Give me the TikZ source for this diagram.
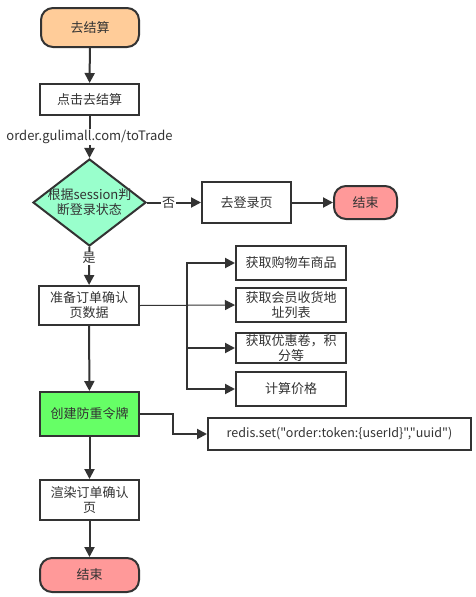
\documentclass[tikz,border=0pt]{standalone}
\usepackage{fontspec}
\setmainfont{Noto Sans CJK SC}
\newfontfamily\plainfont{Noto Sans CJK SC}
\usetikzlibrary{arrows.meta,shapes.geometric}
\definecolor{ln}{HTML}{333333}
\definecolor{cOrange}{HTML}{FFCC99}
\definecolor{cMint}{HTML}{99FFCC}
\definecolor{cGreen}{HTML}{66FF66}
\definecolor{cRed}{HTML}{FF9999}
\begin{document}
\begin{tikzpicture}[x=1pt,y=-1pt,
  every node/.style={font=\fontsize{13}{15}\selectfont, text=ln},
  box/.style={draw=ln, line width=2pt, fill=white, inner sep=0pt, align=center},
  term/.style={box, rounded corners=12pt},
  arr/.style={draw=ln, line width=2pt, -{Triangle[length=10pt,width=10pt]}},
  thinarr/.style={draw=ln, line width=1pt, -{Triangle[length=10pt,width=10pt]}},
  lbl/.style={fill=white, inner sep=1pt, font=\fontsize{13}{15}\selectfont}
]
\useasboundingbox (0,0) rectangle (475,597);
\fill[white] (0,0) rectangle (475,597);

\node[term, fill=cOrange, minimum width=98pt, minimum height=39pt] (start) at (90,27.5) {去结算};
\node[box, minimum width=99pt, minimum height=31pt] (click) at (89.5,99.5) {点击去结算};
\node[diamond, draw=ln, line width=2pt, fill=cMint, minimum width=113pt, minimum height=87pt, inner sep=0pt] (dec) at (89.5,202.5) {};
\node[align=center, inner sep=0pt] (decT) at (dec) {根据session判\\断登录状态};
\node[box, minimum width=89pt, minimum height=41pt] (login) at (246.5,202.5) {去登录页};
\node[term, fill=cRed, minimum width=63pt, minimum height=33pt] (end1) at (365.5,202.5) {结束};
\node[box, minimum width=100pt, minimum height=39pt] (prep) at (89,305.5) {准备订单确认\\页数据};
\node[box, minimum width=110pt, minimum height=34pt] (r1) at (291,263) {获取购物车商品};
\node[box, minimum width=110pt, minimum height=34pt] (r2) at (291,305) {获取会员收货地\\址列表};
\node[box, minimum width=110pt, minimum height=30pt] (r3) at (291,348) {获取优惠卷，积\\分等};
\node[box, minimum width=110pt, minimum height=34pt] (r4) at (291,389) {计算价格};
\node[box, fill=cGreen, minimum width=99pt, minimum height=44pt] (token) at (89.5,414) {创建防重令牌};
\node[box, minimum width=263pt, minimum height=32pt, font=\plainfont\fontsize{12.5}{15}\selectfont] (redis) at (339.5,434) {redis.set("order:token:\{userId\}","uuid")};
\node[box, minimum width=99pt, minimum height=40pt] (render) at (89.5,500) {渲染订单确认\\页};
\node[term, fill=cRed, minimum width=99pt, minimum height=34pt] (end2) at (89.5,575) {结束};

\coordinate (bus) at (187,305);
\coordinate (tkbend) at (173,434);

\draw[arr] (start) -- (click);
\draw[arr] (click) -- node[lbl]{order.gulimall.com/toTrade} (dec);
\draw[arr] (dec) -- node[lbl, pos=0.4]{否} (login);
\draw[arr] (login) -- (end1);
\draw[arr] (dec) -- node[lbl, pos=0.3]{是} (prep);
\draw[arr] (bus) |- (r1);
\draw[thinarr] (prep.east) -- (r2.west);
\draw[arr] (bus) |- (r3);
\draw[arr] (bus) |- (r4);
\draw[arr] (prep) -- (token);
\draw[arr] (token.east) -| (tkbend) -- (redis.west);
\draw[arr] (token) -- (render);
\draw[arr] (render) -- (end2);
\end{tikzpicture}
\end{document}
